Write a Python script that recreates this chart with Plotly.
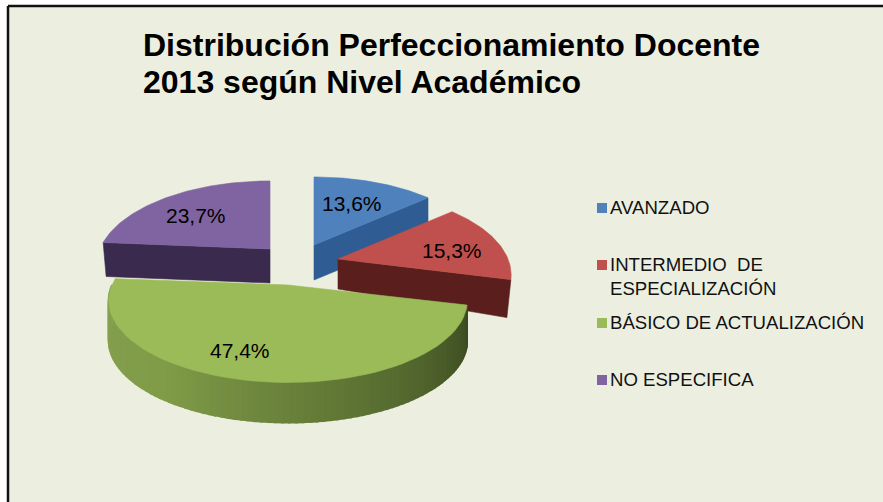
import math
import plotly.graph_objects as go

categories = ["AVANZADO", "INTERMEDIO  DE<br>ESPECIALIZACIÓN", "BÁSICO DE ACTUALIZACIÓN", "NO ESPECIFICA"]
values = [13.6, 15.3, 47.4, 23.7]
labels = ["13,6%", "15,3%", "47,4%", "23,7%"]
title_line_1 = "Distribución Perfeccionamiento Docente"
title_line_2 = "2013 según Nivel Académico"

face_colors = ["#4F81BD", "#C0504D", "#9BBB59", "#8064A2"]
wall_colors = ["#2F5C92", "#5A1E1C", "#6B8A3A", "#3A2A4E"]
BG = "#ECEFDF"
W, H = 883, 502

# projection per slice: apex x, apex y, horizontal radius, vertical radius, depth at apex, depth at rim, rim taper
geom = [
    (314, 245, 170, 81, 35, 35, 0),
    (338, 259, 170, 81, 30, 38, -4),
    (288, 285, 176, 79, 40, 40, 0),
    (270, 249, 170, 81, 34, 34, 3),
]
PERSP = 0.19
label_pos = [(352, 203), (452, 250), (240, 350), (196, 215)]
legend_y = [208, 265, 323, 380]
legend_text_y = [207, 276, 322, 379]


def project(g, theta, drop=0, dx=0):
    cx, cy, a, b = g[:4]
    X, Y = math.sin(theta), math.cos(theta)
    s = 1 / (1 + PERSP * Y)
    return cx + a * X * s + dx, cy - b * Y * s + drop


def rad(v):
    return v / sum(values) * 2 * math.pi


def frange(t0, t1, n):
    return [t0 + (t1 - t0) * i / n for i in range(n + 1)]


def mix(c1, c2, t):
    return "rgb(" + ",".join(str(round(a + (b - a) * t)) for a, b in zip(c1, c2)) + ")"


fig = go.Figure()


def poly(pts, color, lw=0.6):
    fig.add_trace(go.Scatter(
        x=[p[0] for p in pts] + [pts[0][0]],
        y=[p[1] for p in pts] + [pts[0][1]],
        mode="lines", fill="toself", fillcolor=color,
        line=dict(color=color, width=lw),
        hoverinfo="skip", showlegend=False))


starts = []
acc = 0
for v in values:
    starts.append(acc)
    acc += rad(v)


def draw_slice(i):
    g = geom[i]
    t0, t1 = starts[i], starts[i] + rad(values[i])
    d, rim, taper = g[4], g[5], g[6]
    apex = (g[0], g[1])
    apex_b = (g[0], g[1] + d)
    # radial wall facing the viewer
    if i in (0, 1):
        poly([apex, project(g, t1), project(g, t1, rim, taper), apex_b], wall_colors[i])
    if i == 3:
        poly([apex, project(g, t0), project(g, t0, rim, taper), apex_b], wall_colors[i])
    # outer curved wall of the large slice, with its shading
    if i == 2:
        n = 90
        ts = frange(t0, min(t1, 3 * math.pi / 2), n)
        dark = (58, 74, 32)
        mid = (128, 156, 72)
        left = (132, 160, 80)
        for k in range(n):
            f = k / (n - 1)
            col = mix(dark, mid, min(f / 0.68, 1)) if f < 0.68 else mix(mid, left, (f - 0.68) / 0.32)
            a0, a1 = ts[k], ts[k + 1]
            poly([project(g, a0), project(g, a1), project(g, a1, d), project(g, a0, d)], col, lw=2)
    # top face
    pts = [apex] + [project(g, t) for t in frange(t0, t1, 60)]
    poly(pts, face_colors[i])


for i in (0, 3, 1, 2):
    draw_slice(i)

annotations = []
for (x, y), t in zip(label_pos, labels):
    annotations.append(dict(x=x, y=y, text=t, showarrow=False, xanchor="center", yanchor="middle",
                            font=dict(family="Liberation Sans", size=21, color="#000000")))

fig.add_trace(go.Scatter(
    x=[602] * 4, y=legend_y, mode="markers",
    marker=dict(symbol="square", size=10, color=face_colors, line=dict(width=0)),
    hoverinfo="skip", showlegend=False))

for c, y in zip(categories, legend_text_y):
    annotations.append(dict(x=608, y=y, text=c, showarrow=False, xanchor="left", yanchor="middle", align="left",
                            font=dict(family="Liberation Sans", size=18.6, color="#111111")))

annotations.append(dict(x=141, y=82, text=title_line_2, showarrow=False, xanchor="left", yanchor="middle",
                        font=dict(family="Liberation Sans", size=32, color="#000000", weight="bold")))

# frame: dark rule on the top and left edges of the panel
shapes = [
    dict(type="rect", xref="x", yref="y", x0=8, x1=W, y0=6, y1=H, fillcolor=BG, line=dict(width=0), layer="below"),
    dict(type="line", xref="x", yref="y", x0=8, x1=W, y0=6, y1=6, line=dict(color="#111111", width=2.5), layer="below"),
    dict(type="line", xref="x", yref="y", x0=8, x1=8, y0=6, y1=H, line=dict(color="#111111", width=2.5), layer="below"),
]

fig.update_layout(
    width=W, height=H, margin=dict(l=0, r=0, t=0, b=0),
    paper_bgcolor="#FFFFFF", plot_bgcolor="#FFFFFF",
    xaxis=dict(range=[0, W], visible=False, fixedrange=True),
    yaxis=dict(range=[H, 0], visible=False, fixedrange=True),
    shapes=shapes, annotations=annotations, showlegend=False,
    title=dict(text=title_line_1, x=143 / W, xanchor="left", y=1 - 34 / H, yanchor="top",
               font=dict(family="Liberation Sans", size=32, color="#000000", weight="bold")),
)

fig.write_html("out.html", config=dict(displayModeBar=False),
               post_script="document.body.style.margin='0';document.documentElement.style.overflow='hidden';")
